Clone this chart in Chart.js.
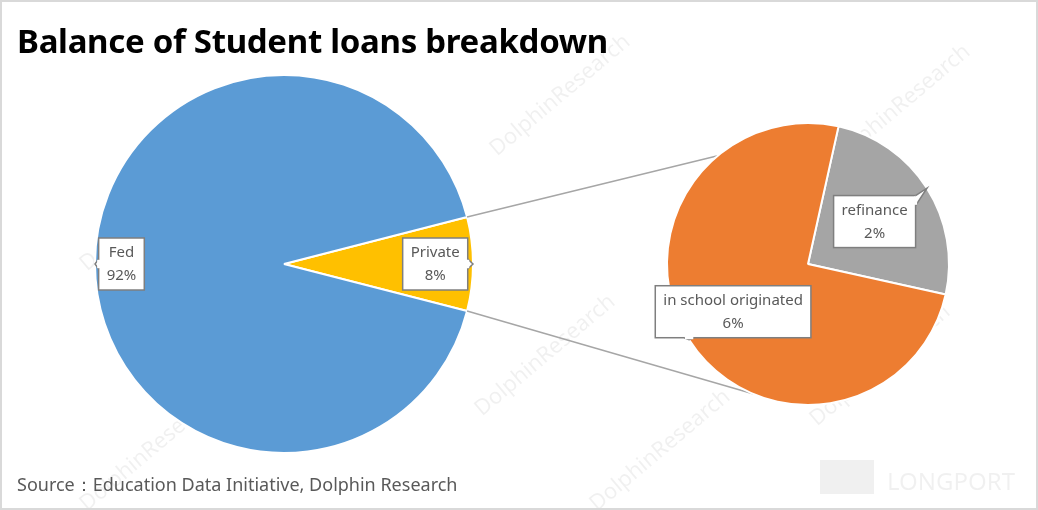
<!DOCTYPE html>
<html>
<head>
<meta charset="utf-8">
<script src="https://cdn.jsdelivr.net/npm/chart.js@4.4.1/dist/chart.umd.min.js"></script>
<style>
  html, body { margin: 0; padding: 0; background: #fff; }
  #wrap { position: relative; width: 1038px; height: 510px; box-sizing: border-box; border: 2px solid #d9d9d9; overflow: hidden; }
  #wrap canvas { position: absolute; left: 0; top: 0; }
  #title { position: absolute; left: 15px; top: 16px; font: bold 33px "Noto Sans", sans-serif; color: #000; letter-spacing: -0.3px; }
  #source { position: absolute; left: 15px; top: 470px; font: 18px "Noto Sans", sans-serif; color: #595959; }
</style>
</head>
<body>
<div id="wrap">
  <canvas id="mainPie" width="1034" height="506"></canvas>
  <canvas id="subPie" width="1034" height="506"></canvas>
  <div id="title">Balance of Student loans breakdown</div>
  <div id="source">Source：Education Data Initiative, Dolphin Research</div>
</div>
<script>
// main pie: private first so it can be rotated to point at the sub pie
const mainLabels = ['Private', 'Fed'];
const mainValues = [8, 92];
const mainColors = ['#FFC000', '#5B9BD5'];

// breakdown of the private slice
const subLabels = ['refinance', 'in school originated'];
const subValues = [2, 6];
const subColors = ['#A5A5A5', '#ED7D31'];

// label box offset from pie centre, as share of radius
const mainLabelPos = [0.8, 0.86];
const subLabelPos = [0.56, 0.63];

function drawCallout(ctx, arc, label, value, frac) {
  const mid = (arc.startAngle + arc.endAngle) / 2;
  const cx = arc.x + Math.cos(mid) * arc.outerRadius * frac;
  const cy = arc.y + Math.sin(mid) * arc.outerRadius * frac;
  const tipX = arc.x + Math.cos(mid) * arc.outerRadius;
  const tipY = arc.y + Math.sin(mid) * arc.outerRadius;

  ctx.save();
  ctx.font = '15px "Noto Sans", sans-serif';
  const lines = [label, value + '%'];
  const w = Math.max(...lines.map(t => ctx.measureText(t).width)) + 16;
  const h = 52;
  const x0 = cx - w / 2, y0 = cy - h / 2, x1 = cx + w / 2, y1 = cy + h / 2;

  ctx.fillStyle = '#fff';
  ctx.strokeStyle = '#7f7f7f';
  ctx.lineWidth = 1.5;
  ctx.fillRect(x0, y0, w, h);
  ctx.strokeRect(x0, y0, w, h);

  // little pointer toward the slice edge
  const ox = tipX < x0 ? x0 - tipX : (tipX > x1 ? tipX - x1 : 0);
  const oy = tipY < y0 ? y0 - tipY : (tipY > y1 ? tipY - y1 : 0);
  if (ox > 0 || oy > 0) {
    let a, b;
    if (ox >= oy) {
      const ex = tipX < x0 ? x0 : x1;
      const by = Math.min(Math.max(tipY, y0 + 5), y1 - 5);
      a = [ex, by - 5]; b = [ex, by + 5];
    } else {
      const ey = tipY < y0 ? y0 : y1;
      const bx = Math.min(Math.max(tipX, x0 + 5), x1 - 5);
      a = [bx - 5, ey]; b = [bx + 5, ey];
    }
    ctx.beginPath();
    ctx.moveTo(a[0], a[1]);
    ctx.lineTo(tipX, tipY);
    ctx.lineTo(b[0], b[1]);
    ctx.closePath();
    ctx.fill();
    ctx.beginPath();
    ctx.moveTo(a[0], a[1]);
    ctx.lineTo(tipX, tipY);
    ctx.lineTo(b[0], b[1]);
    ctx.stroke();
    // hide the box border under the pointer base
    if (a[0] === b[0]) ctx.fillRect(a[0] - 1.5, a[1] + 0.8, 3, b[1] - a[1] - 1.6);
    else ctx.fillRect(a[0] + 0.8, a[1] - 1.5, b[0] - a[0] - 1.6, 3);
  }

  ctx.fillStyle = '#595959';
  ctx.textAlign = 'center';
  ctx.textBaseline = 'middle';
  ctx.fillText(lines[0], cx, cy - 11);
  ctx.fillText(lines[1], cx, cy + 12);
  ctx.restore();
}

const calloutPlugin = {
  id: 'callouts',
  afterDatasetsDraw(chart, args, opts) {
    const meta = chart.getDatasetMeta(0);
    meta.data.forEach((arc, i) => {
      drawCallout(chart.ctx, arc, chart.data.labels[i], chart.data.datasets[0].data[i], opts.pos[i]);
    });
  }
};

const watermarkPlugin = {
  id: 'watermark',
  beforeDraw(chart) {
    const ctx = chart.ctx;
    ctx.save();
    ctx.fillStyle = 'rgba(0,0,0,0.06)';
    ctx.font = '22px "Noto Sans", sans-serif';
    [[560, 100], [900, 110], [150, 215], [545, 360], [880, 370], [150, 455], [660, 455]].forEach(p => {
      ctx.save();
      ctx.translate(p[0], p[1]);
      ctx.rotate(-0.7);
      ctx.fillText('DolphinResearch', -85, 0);
      ctx.restore();
    });
    ctx.font = '24px "Noto Sans", sans-serif';
    ctx.fillText('LONGPORT', 885, 488);
    ctx.fillRect(818, 458, 54, 34);
    ctx.restore();
  }
};

const mainChart = new Chart(document.getElementById('mainPie').getContext('2d'), {
  type: 'pie',
  data: {
    labels: mainLabels,
    datasets: [{
      data: mainValues,
      backgroundColor: mainColors,
      borderColor: '#fff',
      borderWidth: 2
    }]
  },
  options: {
    responsive: false,
    animation: false,
    rotation: 90 - mainValues[0] / 100 * 180,
    layout: { padding: { left: 92, right: 562, top: 72, bottom: 54 } },
    plugins: {
      legend: { display: false },
      tooltip: { enabled: false },
      callouts: { pos: mainLabelPos }
    }
  },
  plugins: [watermarkPlugin, calloutPlugin]
});

// lines from the private slice to the sub pie
const connectorPlugin = {
  id: 'connectors',
  beforeDatasetsDraw(chart) {
    const priv = mainChart.getDatasetMeta(0).data[0];
    const sub = chart.getDatasetMeta(0).data[0];
    const ends = [sub.startAngle, 113 * Math.PI / 180];
    const starts = [priv.startAngle, priv.endAngle];
    const ctx = chart.ctx;
    ctx.save();
    ctx.strokeStyle = '#a6a6a6';
    ctx.lineWidth = 1.5;
    for (let i = 0; i < 2; i++) {
      ctx.beginPath();
      ctx.moveTo(priv.x + Math.cos(starts[i]) * priv.outerRadius, priv.y + Math.sin(starts[i]) * priv.outerRadius);
      ctx.lineTo(sub.x + Math.cos(ends[i]) * sub.outerRadius, sub.y + Math.sin(ends[i]) * sub.outerRadius);
      ctx.stroke();
    }
    ctx.restore();
  }
};

new Chart(document.getElementById('subPie').getContext('2d'), {
  type: 'pie',
  data: {
    labels: subLabels,
    datasets: [{
      data: subValues,
      backgroundColor: subColors,
      borderColor: '#fff',
      borderWidth: 2
    }]
  },
  options: {
    responsive: false,
    animation: false,
    rotation: 12.5,
    layout: { padding: { left: 664, right: 86, top: 120, bottom: 102 } },
    plugins: {
      legend: { display: false },
      tooltip: { enabled: false },
      callouts: { pos: subLabelPos }
    }
  },
  plugins: [connectorPlugin, calloutPlugin]
});
</script>
</body>
</html>
